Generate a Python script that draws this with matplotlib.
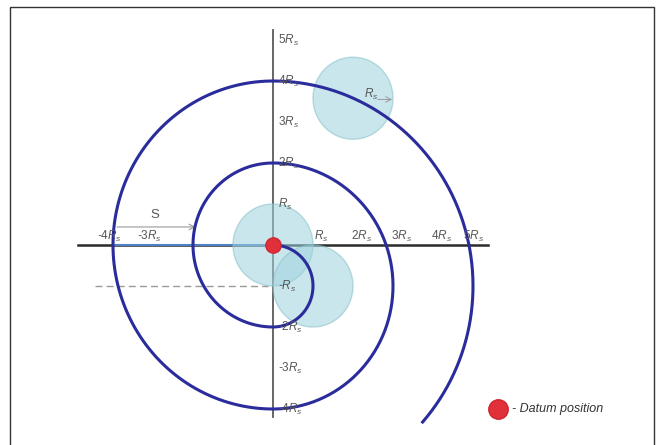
import numpy as np
import matplotlib.pyplot as plt
from matplotlib.patches import Ellipse, Rectangle

plt.rcParams['font.family'] = ['Liberation Sans', 'DejaVu Sans']
plt.rcParams['mathtext.fontset'] = 'custom'
plt.rcParams['mathtext.rm'] = 'Liberation Sans'
plt.rcParams['mathtext.it'] = 'Liberation Sans:italic'
plt.rcParams['mathtext.default'] = 'it'

# spiral built from half circles, all lengths in units of R_s
arc_centre_y = [-1, 0, -1, 0, -1]
arc_radius = [1, 2, 3, 4, 5]
arc_start = [90, 270, 90, 270, 90]
arc_end = [-90, 90, -90, 90, -42]

# circles of radius R_s sitting on the path
circle_x = [0, 1, 2]
circle_y = [0, -1, 3.58]

x_ticks = [-4, -3, 1, 2, 3, 4, 5]
y_ticks = [5, 4, 3, 2, 1, -1, -2, -3, -4]

spacing = 2  # S between turns


def rs_label(k):
    # plain hyphen in front, the rest as math
    sign = '-' if k < 0 else ''
    k = abs(k)
    return sign + (r'$R_s$' if k == 1 else r'$%dR_s$' % k)


fig = plt.figure(figsize=(6.61, 4.45), dpi=100)
ax = fig.add_axes([0, 0, 1, 1])
ax.set_xlim(-273 / 40, 388 / 40)
ax.set_ylim(-200 / 41, 245 / 41)
ax.axis('off')

# frame round the drawing
fig.patches.append(Rectangle((10 / 661, -0.1), 644 / 661, 1.1 - 7 / 445,
                             transform=fig.transFigure, fill=False,
                             edgecolor='#333333', lw=1.0))

# axes
ax.plot([-4.88, 5.38], [0, 0], color='#2a2a2a', lw=1.8, zorder=1)
ax.plot([-3.95, 0], [0, 0], color='#4f80c4', lw=1.5, zorder=2)
ax.plot([0, 0], [-4.2, 5.24], color='#5a5a5a', lw=1.3, zorder=1)

# dashed guide at -R_s
ax.plot([-4.45, -0.12], [-1, -1], color='#9a9a9a', lw=1.0,
        dashes=(5, 3), zorder=1)

# spacing arrow
ax.annotate('', xy=(-4 + spacing + 0.07, 0.44), xytext=(-3.9, 0.44),
            arrowprops=dict(arrowstyle='->', color='#9a9a9a', lw=0.8,
                            shrinkA=0, shrinkB=0), zorder=2)
ax.text(-2.95, 0.73, 'S', color='#555555', fontsize=9.5,
        ha='center', va='center')

# circles
for cx, cy in zip(circle_x, circle_y):
    ax.add_patch(Ellipse((cx, cy), 2, 2, facecolor='#9fd3df', alpha=0.55,
                         edgecolor='#86c0c8', lw=1.0, zorder=3))

# spiral
for cy, r, a0, a1 in zip(arc_centre_y, arc_radius, arc_start, arc_end):
    t = np.radians(np.linspace(a0, a1, 200))
    ax.plot(r * np.cos(t), cy + r * np.sin(t), color='#2a2c9c', lw=2.2,
            solid_capstyle='butt', zorder=4)

# R_s marker on the top circle
ax.text(circle_x[2] + 0.45, circle_y[2] + 0.08, r'$R_s$', color='#555555',
        fontsize=8.5, ha='center', va='center', zorder=5)
ax.annotate('', xy=(circle_x[2] + 0.98, circle_y[2] - 0.03),
            xytext=(circle_x[2] + 0.62, circle_y[2] - 0.03),
            arrowprops=dict(arrowstyle='->', color='#9a9a9a', lw=0.7,
                            shrinkA=0, shrinkB=0), zorder=5)

# datum
ax.plot(0, 0, 'o', color='#e0303a', ms=11, mec='#d02530', zorder=6)

# axis labels
for k in x_ticks:
    xpos = k - 0.1 if k < 0 else min(k + 0.2, 5.0)
    ax.text(xpos, 0.02, rs_label(k), color='#555555', fontsize=8.5,
            style='italic', ha='center', va='bottom', zorder=5)
for k in y_ticks:
    ax.text(0.12, k, rs_label(k), color='#555555', fontsize=8.5,
            style='italic', ha='left', va='center', zorder=5)

# key
ax.plot(498 / 661, 1 - 409 / 445, 'o', color='#e0303a', ms=14,
        mec='#d02530', transform=ax.transAxes, clip_on=False)
ax.text(512 / 661, 1 - 409 / 445, '- Datum position', style='italic',
        fontsize=9, color='#333333', ha='left', va='center',
        transform=ax.transAxes)

fig.savefig('out.png', dpi=100)
